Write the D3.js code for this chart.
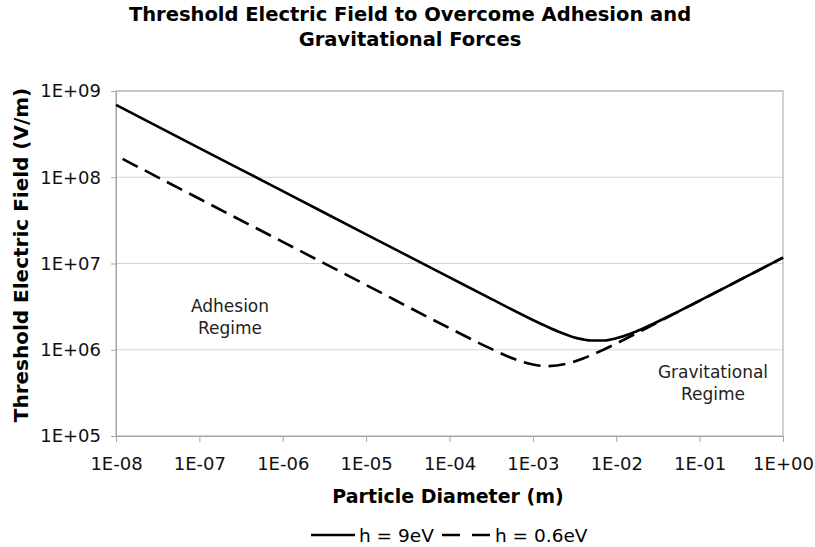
<!DOCTYPE html>
<html>
<head>
<meta charset="utf-8">
<script src="https://cdn.jsdelivr.net/npm/d3@7"></script>
<style>
  body { margin: 0; background: #fff; }
  svg { display: block; font-family: 'DejaVu Sans', Verdana, sans-serif; }
</style>
</head>
<body>
<div id="chart"></div>
<script>
// data
const diam9 = [1e-8, 1e-7, 1e-6, 1e-5, 1e-4, 3e-4, 1e-3, 1.5e-3, 2e-3, 3e-3, 4e-3, 5e-3, 7e-3, 1e-2, 1.4e-2, 2e-2, 5e-2, 1e-1, 3e-1, 1];
const field9 = [6.9e8, 2.18e8, 6.9e7, 2.18e7, 6.9e6, 3.99e6, 2.21e6, 1.84e6, 1.63e6, 1.41e6, 1.32e6, 1.28e6, 1.28e6, 1.36e6, 1.5e6, 1.73e6, 2.64e6, 3.71e6, 6.41e6, 1.17e7];

const diam06 = [1.2e-8, 1e-7, 1e-6, 1e-5, 1e-4, 3e-4, 6e-4, 1e-3, 1.5e-3, 2.5e-3, 4e-3, 7e-3, 1e-2, 2e-2, 5e-2, 1e-1, 3e-1, 1];
const field06 = [1.63e8, 5.63e7, 1.78e7, 5.63e6, 1.78e6, 1.05e6, 7.81e5, 6.74e5, 6.46e5, 6.85e5, 7.92e5, 1.0e6, 1.18e6, 1.66e6, 2.62e6, 3.7e6, 6.41e6, 1.17e7];

const xTicks = [1e-8, 1e-7, 1e-6, 1e-5, 1e-4, 1e-3, 1e-2, 1e-1, 1];
const xTickLabels = ['1E-08', '1E-07', '1E-06', '1E-05', '1E-04', '1E-03', '1E-02', '1E-01', '1E+00'];
const yTicks = [1e5, 1e6, 1e7, 1e8, 1e9];
const yTickLabels = ['1E+05', '1E+06', '1E+07', '1E+08', '1E+09'];

const width = 815, height = 547;
const margin = { top: 91, right: 32, bottom: 111, left: 116 };
const w = width - margin.left - margin.right,
  h = height - margin.top - margin.bottom;

const svg = d3.select('#chart').append('svg')
  .attr('width', width)
  .attr('height', height);

// title
svg.append('text')
  .attr('x', 410).attr('y', 21)
  .attr('text-anchor', 'middle')
  .attr('font-size', 19.5).attr('font-weight', 'bold')
  .text('Threshold Electric Field to Overcome Adhesion and');
svg.append('text')
  .attr('x', 410).attr('y', 46)
  .attr('text-anchor', 'middle')
  .attr('font-size', 19.5).attr('font-weight', 'bold')
  .text('Gravitational Forces');

let xScale = d3.scaleLog().domain([1e-8, 1]).range([0, w]);
let yScale = d3.scaleLog().domain([1e5, 1e9]).range([h, 0]);

let vis = svg.append('g')
  .attr('transform', 'translate(' + margin.left + ',' + margin.top + ')');

// gridlines
vis.selectAll('.grid')
  .data(yTicks.slice(1))
  .enter().append('line')
  .attr('x1', 0).attr('x2', w)
  .attr('y1', (d) => yScale(d)).attr('y2', (d) => yScale(d))
  .attr('stroke', '#d4d4d4').attr('stroke-width', 1);

// plot border
vis.append('rect')
  .attr('width', w).attr('height', h)
  .attr('fill', 'none')
  .attr('stroke', '#a6a6a6').attr('stroke-width', 1);

// axes
let xAxis = d3.axisBottom(xScale)
  .tickValues(xTicks)
  .tickSize(6)
  .tickPadding(15)
  .tickFormat((d, i) => xTickLabels[i]);
let yAxis = d3.axisLeft(yScale)
  .tickValues(yTicks)
  .tickSize(5)
  .tickPadding(10)
  .tickFormat((d, i) => yTickLabels[i]);

let gx = vis.append('g')
  .attr('transform', 'translate(0,' + h + ')')
  .call(xAxis);
let gy = vis.append('g').call(yAxis);

[gx, gy].forEach((g) => {
  g.attr('font-family', null).attr('font-size', null);
  g.select('.domain').attr('stroke', '#a6a6a6');
  g.selectAll('.tick line').attr('stroke', '#a6a6a6');
  g.selectAll('.tick text')
    .attr('fill', '#111')
    .style('font-size', '18px');
});

// axis titles
svg.append('text')
  .attr('x', 448).attr('y', 503)
  .attr('text-anchor', 'middle')
  .attr('font-size', 19).attr('font-weight', 'bold')
  .text('Particle Diameter (m)');
svg.append('text')
  .attr('transform', 'translate(28,255) rotate(-90)')
  .attr('text-anchor', 'middle')
  .attr('font-size', 20).attr('font-weight', 'bold')
  .text('Threshold Electric Field (V/m)');

// lines
let line = d3.line()
  .x((d) => xScale(d[0]))
  .y((d) => yScale(d[1]))
  .curve(d3.curveMonotoneX);

vis.append('path')
  .datum(diam06.map((d, i) => [d, field06[i]]))
  .attr('fill', 'none')
  .attr('stroke', '#000')
  .attr('stroke-width', 2.6)
  .attr('stroke-dasharray', '17,8')
  .attr('d', line);

vis.append('path')
  .datum(diam9.map((d, i) => [d, field9[i]]))
  .attr('fill', 'none')
  .attr('stroke', '#000')
  .attr('stroke-width', 2.6)
  .attr('d', line);

// regime annotations
const notes = [
  { x: 230, y: 312, lines: ['Adhesion', 'Regime'] },
  { x: 713, y: 378, lines: ['Gravitational', 'Regime'] }
];
notes.forEach((n) => {
  n.lines.forEach((t, i) => {
    svg.append('text')
      .attr('x', n.x).attr('y', n.y + i * 22)
      .attr('text-anchor', 'middle')
      .attr('font-size', 17)
      .attr('fill', '#222')
      .text(t);
  });
});

// legend
let legend = svg.append('g').attr('transform', 'translate(0,535)');
legend.append('line')
  .attr('x1', 311).attr('x2', 355).attr('y1', 0).attr('y2', 0)
  .attr('stroke', '#000').attr('stroke-width', 2.6);
legend.append('text')
  .attr('x', 359).attr('y', 7)
  .attr('font-size', 18.5)
  .text('h = 9eV');
legend.append('line')
  .attr('x1', 442).attr('x2', 490).attr('y1', 0).attr('y2', 0)
  .attr('stroke', '#000').attr('stroke-width', 2.6)
  .attr('stroke-dasharray', '18,12');
legend.append('text')
  .attr('x', 495).attr('y', 7)
  .attr('font-size', 18.5)
  .text('h = 0.6eV');
</script>
</body>
</html>
